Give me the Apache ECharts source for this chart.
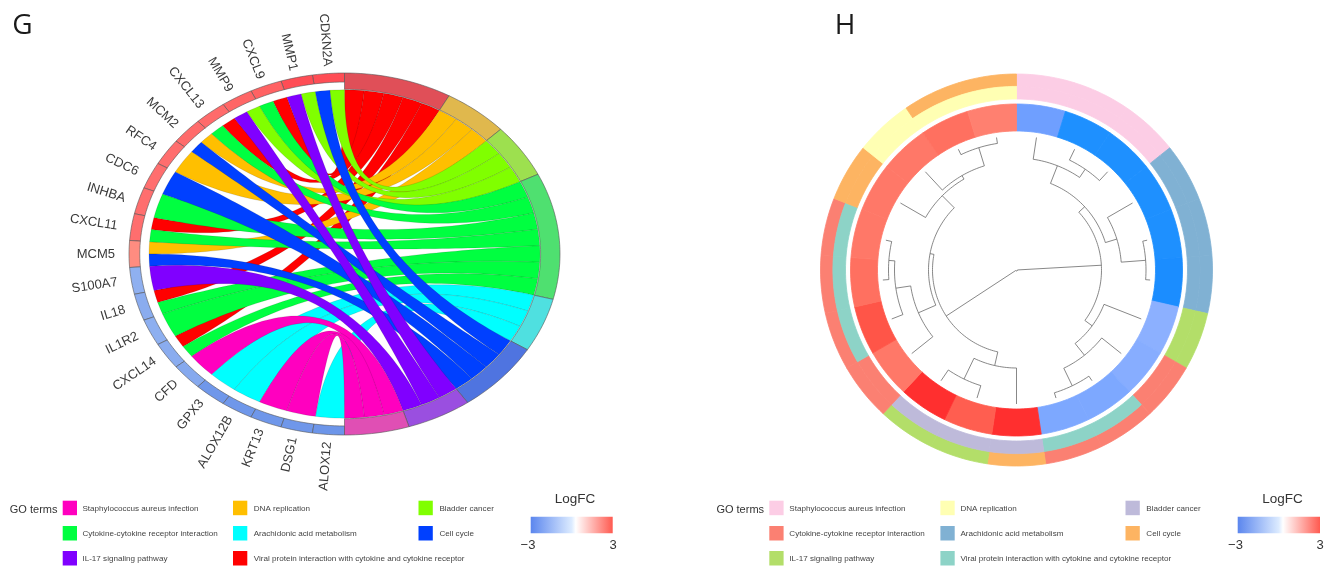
<!DOCTYPE html>
<html>
<head>
<meta charset="utf-8">
<style>
  html, body { margin: 0; padding: 0; background: #fff; }
  #chart { width: 1325px; height: 567px; }
</style>
<script src="https://cdn.jsdelivr.net/npm/echarts@6/dist/echarts.min.js"></script>
</head>
<body>
<div id="chart"></div>
<script>
const termNames = [
  "Viral protein interaction with cytokine and cytokine receptor",
  "DNA replication",
  "Bladder cancer",
  "Cytokine-cytokine receptor interaction",
  "Arachidonic acid metabolism",
  "Cell cycle",
  "IL-17 signaling pathway",
  "Staphylococcus aureus infection",
];
const geneNames = [
  "CDKN2A", "MMP1", "CXCL9", "MMP9", "CXCL13", "MCM2", "RFC4", "CDC6", "INHBA", "CXCL11", "MCM5",
  "S100A7", "IL18", "IL1R2", "CXCL14", "CFD", "GPX3", "ALOX12B", "KRT13", "DSG1", "ALOX12",
];
// index into termNames, in gene order
const geneTerms = [
  [2, 5], [2, 6], [0, 3], [2, 6], [0, 3], [1, 5], [1], [5], [3], [0, 3], [1, 5],
  [6], [0, 3], [3], [0, 3], [7], [4], [4], [7], [7], [4],
];
const geneLogFC = [
  2.8, 2.8, 2.3, 2.2, 2.0, 2.0, 1.9, 1.9, 1.9, 1.9, 1.6,
  -1.7, -1.85, -1.75, -1.85, -2.0, -2.7, -2.7, -2.7, -2.7, -2.8,
];
// clockwise from the top of panel H
const heatOrder = [
  "CFD", "KRT13", "DSG1", "GPX3", "ALOX12B", "ALOX12", "S100A7", "IL1R2", "IL18", "CXCL14",
  "CDKN2A", "MMP9", "MMP1", "INHBA", "CXCL9", "CXCL13", "CXCL11", "CDC6", "RFC4", "MCM2", "MCM5",
];
// [merge height, child, child]
const dendroRight = [49,
  [41, [22, "CFD", [12, "KRT13", "DSG1"]], [29, "GPX3", [4.5, "ALOX12B", "ALOX12"]]],
  [40, "S100A7", [25, "IL1R2", [5.5, "IL18", "CXCL14"]]],
];
const dendroLeft = [50,
  [36, "CDKN2A", [13, "MMP9", "MMP1"]],
  [46, [27, "INHBA", [12, "CXCL9", [6, "CXCL13", "CXCL11"]]], [29, "CDC6", [25, "RFC4", [6, "MCM2", "MCM5"]]]],
];
const dendroRootHeight = 133;

const legendColumns = [
  [7, 3, 6],
  [1, 4, 0],
  [2, 5],
];

const ribbonColors = ["#ff0000", "#ffbf00", "#80ff00", "#00ff40", "#00ffff", "#0040ff", "#8000ff", "#ff00bf"];
const trackColors = ["#e04f58", "#e0b84d", "#9de04f", "#4fe070", "#4fe0e0", "#4f74e0", "#9a4fe0", "#e04fb4"];
const set3Colors = ["#8dd3c7", "#ffffb3", "#bebada", "#fb8072", "#80b1d3", "#fdb462", "#b3de69", "#fccde5"];
const chordRamp = [[-3, "#6690e8"], [-1.7, "#8fb0f0"], [0, "#ffffff"], [1.6, "#ff8c80"], [1.9, "#ff6e6e"], [2.2, "#ff6666"], [2.8, "#ff4d55"], [3, "#ff4050"]];
const heatRamp = [[-3, "#1488ff"], [-2.7, "#1e90ff"], [-2.0, "#6f9fff"], [-1.7, "#8cb0ff"], [0, "#ffffff"], [1.6, "#ff8070"], [1.9, "#ff7868"], [2.0, "#ff7060"], [2.3, "#ff5548"], [2.8, "#ff2f2f"], [3, "#ff2020"]];

function rampColor(ramp, v) {
  for (let i = 1; i < ramp.length; i++) {
    if (v <= ramp[i][0]) {
      const t = (v - ramp[i - 1][0]) / (ramp[i][0] - ramp[i - 1][0]);
      return echarts.color.lerp(t, [ramp[i - 1][1], ramp[i][1]]);
    }
  }
  return ramp[ramp.length - 1][1];
}

// unit circle position, angle in degrees clockwise from the top
const DEG = Math.PI / 180;
const pos = (deg, r) => [r * Math.sin(deg * DEG), r * Math.cos(deg * DEG)];

function arcPoints(a0, a1, r) {
  const n = Math.max(2, Math.ceil(Math.abs(a1 - a0) / 1.5));
  const pts = [];
  for (let i = 0; i <= n; i++) pts.push(pos(a0 + ((a1 - a0) * i) / n, r));
  return pts;
}

function bandPoints(a0, a1, r0, r1) {
  return arcPoints(a0, a1, r1).concat(arcPoints(a1, a0, r0));
}

/* ---- panel G layout, all derived from the gene/term table ---- */
const linkCount = geneTerms.reduce((s, t) => s + t.length, 0);
const termCounts = termNames.map((_, k) => geneTerms.filter((t) => t.includes(k)).length);
const unitTerm = 180 / linkCount;
const unitGene = 180 / geneNames.length;

const termRanges = [];
let termCursor = 0;
termCounts.forEach((c) => {
  termRanges.push([termCursor, termCursor + c * unitTerm]);
  termCursor += c * unitTerm;
});

const links = [];
const termUsed = termNames.map(() => 0);
geneTerms.forEach((terms, g) => {
  const hi = 360 - g * unitGene;
  const w = unitGene / terms.length;
  terms.forEach((k, j) => {
    const t0 = termRanges[k][0] + termUsed[k] * unitTerm;
    termUsed[k]++;
    links.push({ term: k, g0: hi - j * w, g1: hi - (j + 1) * w, t0: t0, t1: t0 + unitTerm });
  });
});
links.sort((a, b) => a.term - b.term);

const RIBBON_R = 0.907;
const TERM_R = 0.91;
const GENE_R = 0.95;
const LABEL_RX = 1.065;
const LABEL_RY = 1.04;

function ribbonPoints(l) {
  const a = [];
  const steps = 60;
  const edge = (ga, ta, out) => {
    const A = pos(ga, RIBBON_R);
    const B = pos(ta, RIBBON_R);
    for (let i = 0; i <= steps; i++) {
      const t = i / steps;
      const u = (1 - t) * (1 - t);
      const v = t * t;
      out.push([u * A[0] + v * B[0], u * A[1] + v * B[1]]);
    }
  };
  edge(l.g0, l.t0, a);
  a.push(...arcPoints(l.t0, l.t1, RIBBON_R));
  const back = [];
  edge(l.g1, l.t1, back);
  a.push(...back.reverse());
  a.push(...arcPoints(l.g1, l.g0, RIBBON_R));
  return a;
}

/* ---- panel H layout ---- */
const H_SIZE = 196;
const R_OUT = 1;
const R_MID = 183.6 / H_SIZE;
const R_IN = 171 / H_SIZE;
const R_HEAT1 = 166 / H_SIZE;
const R_HEAT0 = 139 / H_SIZE;
const R_LEAF = 134;
const cellDeg = 360 / heatOrder.length;

const heatCells = heatOrder.map((name, i) => {
  const g = geneNames.indexOf(name);
  const terms = geneTerms[g];
  return { a0: i * cellDeg, a1: (i + 1) * cellDeg, logFC: geneLogFC[g], inner: terms[0], outer: terms[terms.length - 1] };
});

const dendroLines = [];
const heightR = (h) => (R_LEAF - h) / H_SIZE;
function layoutDendro(node) {
  if (typeof node === "string") {
    return { angle: (heatOrder.indexOf(node) + 0.5) * cellDeg, h: 0 };
  }
  const h = node[0];
  const a = layoutDendro(node[1]);
  const b = layoutDendro(node[2]);
  dendroLines.push([pos(a.angle, heightR(a.h)), pos(a.angle, heightR(h))]);
  dendroLines.push([pos(b.angle, heightR(b.h)), pos(b.angle, heightR(h))]);
  dendroLines.push(arcPoints(a.angle, b.angle, heightR(h)));
  return { angle: (a.angle + b.angle) / 2, h: h };
}
layoutDendro([dendroRootHeight, dendroRight, dendroLeft]);

/* ---- series ---- */
function polygonSeries(gridIndex, rows, makeStyle, makePoints) {
  return {
    type: "custom",
    coordinateSystem: "cartesian2d",
    xAxisIndex: gridIndex,
    yAxisIndex: gridIndex,
    silent: true,
    clip: false,
    animation: false,
    data: rows.map((_, i) => [0, 0, i]),
    renderItem: (params, api) => {
      const row = rows[api.value(2)];
      return {
        type: "polygon",
        shape: { points: makePoints(row).map((p) => api.coord(p)) },
        style: makeStyle(row),
      };
    },
  };
}

const geneRows = geneNames.map((name, i) => ({ name: name, i: i, a0: 360 - (i + 1) * unitGene, a1: 360 - i * unitGene, fc: geneLogFC[i] }));
const termRows = termNames.map((name, k) => ({ k: k, a0: termRanges[k][0], a1: termRanges[k][1] }));
const trackLine = { stroke: "#555555", lineWidth: 0.6 };

const series = [
  polygonSeries(0, links,
    (l) => ({ fill: ribbonColors[l.term], stroke: "rgba(0,0,0,0.3)", lineWidth: 0.4 }),
    ribbonPoints),
  polygonSeries(0, geneRows,
    (g) => Object.assign({ fill: rampColor(chordRamp, g.fc) }, trackLine),
    (g) => bandPoints(g.a0, g.a1, GENE_R, 1)),
  polygonSeries(0, termRows,
    (t) => Object.assign({ fill: trackColors[t.k] }, trackLine),
    (t) => bandPoints(t.a0, t.a1, TERM_R, 1)),
  {
    type: "custom",
    coordinateSystem: "cartesian2d",
    xAxisIndex: 0,
    yAxisIndex: 0,
    silent: true,
    clip: false,
    animation: false,
    data: geneRows.map((_, i) => [0, 0, i]),
    renderItem: (params, api) => {
      const g = geneRows[api.value(2)];
      const phi = 360 - (g.a0 + g.a1) / 2;
      const u = pos(-phi, 1);
      const p = api.coord([u[0] * LABEL_RX, u[1] * LABEL_RY]);
      return {
        type: "text",
        x: p[0],
        y: p[1],
        rotation: (phi - 90) * DEG,
        style: {
          text: g.name,
          fill: "#3a3a3a",
          font: "13px 'Liberation Sans'",
          align: "right",
          verticalAlign: "middle",
        },
      };
    },
  },
  polygonSeries(1, heatCells,
    (c) => ({ fill: set3Colors[c.outer], stroke: set3Colors[c.outer], lineWidth: 0.8 }),
    (c) => bandPoints(c.a0, c.a1, R_MID, R_OUT)),
  polygonSeries(1, heatCells,
    (c) => ({ fill: set3Colors[c.inner], stroke: set3Colors[c.inner], lineWidth: 0.8 }),
    (c) => bandPoints(c.a0, c.a1, R_IN, R_MID)),
  polygonSeries(1, heatCells,
    (c) => {
      const col = rampColor(heatRamp, c.logFC);
      return { fill: col, stroke: col, lineWidth: 0.8 };
    },
    (c) => bandPoints(c.a0, c.a1, R_HEAT0, R_HEAT1)),
  {
    type: "custom",
    coordinateSystem: "cartesian2d",
    xAxisIndex: 1,
    yAxisIndex: 1,
    silent: true,
    clip: false,
    animation: false,
    data: dendroLines.map((_, i) => [0, 0, i]),
    renderItem: (params, api) => ({
      type: "polyline",
      shape: { points: dendroLines[api.value(2)].map((p) => api.coord(p)) },
      style: { fill: null, stroke: "#6a6a6a", lineWidth: 0.8 },
    }),
  },
];

const unitAxis = (gridIndex) => ({ type: "value", gridIndex: gridIndex, min: -1, max: 1, show: false });

/* ---- legends ---- */
function text(x, y, str, size, align, fill) {
  return {
    type: "text",
    x: x,
    y: y,
    silent: true,
    style: {
      text: str,
      font: size + "px 'Liberation Sans'",
      fill: fill || "#333333",
      align: align || "left",
      verticalAlign: "middle",
    },
  };
}

function legend(colors, goX, swatchX, textX, barX, barW, minusX, plusX, logX) {
  const out = [text(goX, 509.5, "GO terms", 11)];
  const rowsY = [500.7, 526, 551];
  legendColumns.forEach((col, c) => {
    col.forEach((k, r) => {
      out.push({
        type: "rect",
        silent: true,
        shape: { x: swatchX[c], y: rowsY[r], width: 14.3, height: 14.5 },
        style: { fill: colors[k] },
      });
      out.push(text(textX[c], rowsY[r] + 7.6, termNames[k], 8.1, "left", "#444444"));
    });
  });
  out.push(text(logX, 499, "LogFC", 13.5, "center"));
  out.push({
    type: "rect",
    silent: true,
    shape: { x: barX, y: 516.7, width: barW, height: 16.6 },
    style: {
      fill: new echarts.graphic.LinearGradient(0, 0, 1, 0, [
        { offset: 0, color: "#5b86ee" },
        { offset: 0.5, color: "#dcebff" },
        { offset: 0.55, color: "#ffffff" },
        { offset: 1, color: "#ff5a50" },
      ]),
    },
  });
  out.push(text(minusX, 545, "\u22123", 13, "center"));
  out.push(text(plusX, 545, "3", 13, "center"));
  return out;
}

const panelLetter = (x, str) => ({
  type: "text",
  x: x,
  y: 26.5,
  silent: true,
  style: { text: str, font: "28px 'Open Sans'", fill: "#1a1a1a", align: "center", verticalAlign: "middle" },
});

const option = {
  animation: false,
  backgroundColor: "#ffffff",
  grid: [
    { left: 129, top: 73, width: 431, height: 362 },
    { left: 820.5, top: 74, width: 392, height: 392 },
  ],
  xAxis: [unitAxis(0), unitAxis(1)],
  yAxis: [unitAxis(0), unitAxis(1)],
  series: series,
  graphic: {
    elements: [
      panelLetter(22.5, "G"),
      panelLetter(845, "H"),
      ...legend(ribbonColors, 9.8, [62.7, 233, 418.5], [82.4, 253.7, 439.4], 530.7, 82, 528, 613, 575),
      ...legend(set3Colors, 716.4, [769.3, 940.4, 1125.5], [789.3, 960.4, 1146.3], 1237.7, 82.3, 1235.5, 1320, 1282.5),
    ],
  },
};

const chart = echarts.init(document.getElementById("chart"));
chart.setOption(option);
window.addEventListener("resize", function() {
  chart.resize();
});
</script>
</body>
</html>
